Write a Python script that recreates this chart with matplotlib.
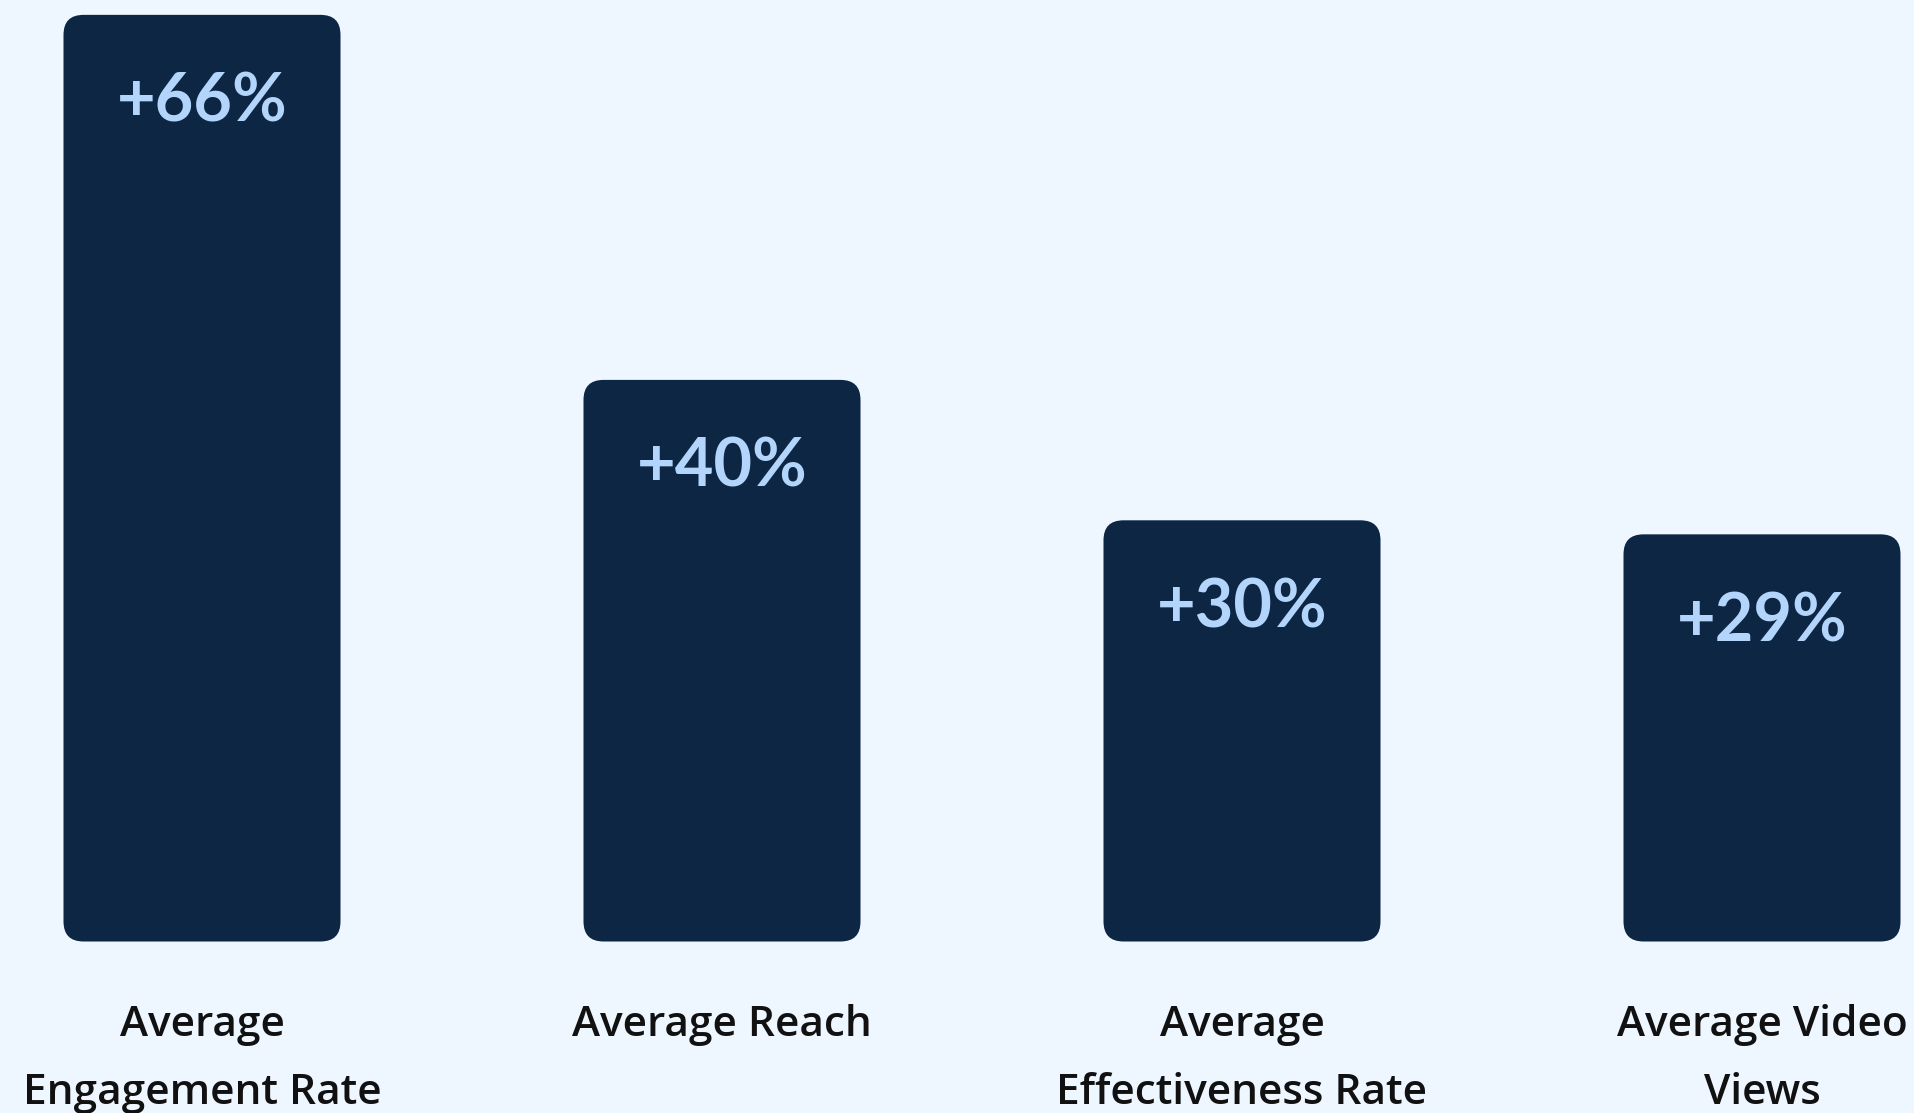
import matplotlib.pyplot as plt
from matplotlib.patches import FancyBboxPatch

categories = ["Average\nEngagement Rate", "Average Reach", "Average\nEffectiveness Rate", "Average Video\nViews"]
values = [66, 40, 30, 29]
value_labels = ["+66%", "+40%", "+30%", "+29%"]

bg = "#eef6ff"
bar_color = "#0c2644"
text_color = "#b3d5fb"

W, H, DPI = 1914, 1113, 100
fig = plt.figure(figsize=(W / DPI, H / DPI), dpi=DPI, facecolor=bg)
base = 941.5  # pixel row of zero line (from top)
ax = fig.add_axes([0, (H - base) / H, 1, base / H])
ax.set_facecolor(bg)

spacing = 520.0
x0 = 202.0
px_per_unit = 14.04
ax.set_xlim(-x0 / spacing, (W - x0) / spacing)
ax.set_ylim(0, base / px_per_unit)

xs = list(range(len(values)))
bars = ax.bar(xs, values, width=277 / spacing, color=bar_color)

# swap plain bars for rounded ones
radius_px = 20
rx = radius_px / spacing
ry = radius_px / px_per_unit
for b in bars:
    x, y, w, h = b.get_x(), b.get_y(), b.get_width(), b.get_height()
    b.remove()
    p = FancyBboxPatch((x, y), w, h, boxstyle=f"round,pad=0,rounding_size={rx}",
                       mutation_aspect=ry / rx, facecolor=bar_color, edgecolor="none")
    ax.add_patch(p)

for x, v, lab in zip(xs, values, value_labels):
    ax.annotate(lab, (x, v), xytext=(0, -88 * 72 / DPI), textcoords="offset points",
                ha="center", va="center", fontsize=48, color=text_color,
                fontfamily="Lato", fontweight="bold")

for x, lab in zip(xs, categories):
    ax.annotate(lab, (x, 0), xytext=(0, -62 * 72 / DPI), textcoords="offset points",
                ha="center", va="top", fontsize=30.5, color="#111111",
                fontfamily="Open Sans", fontweight="semibold", linespacing=1.83,
                annotation_clip=False)

ax.axis("off")
fig.savefig("out.png", dpi=DPI, facecolor=bg)
